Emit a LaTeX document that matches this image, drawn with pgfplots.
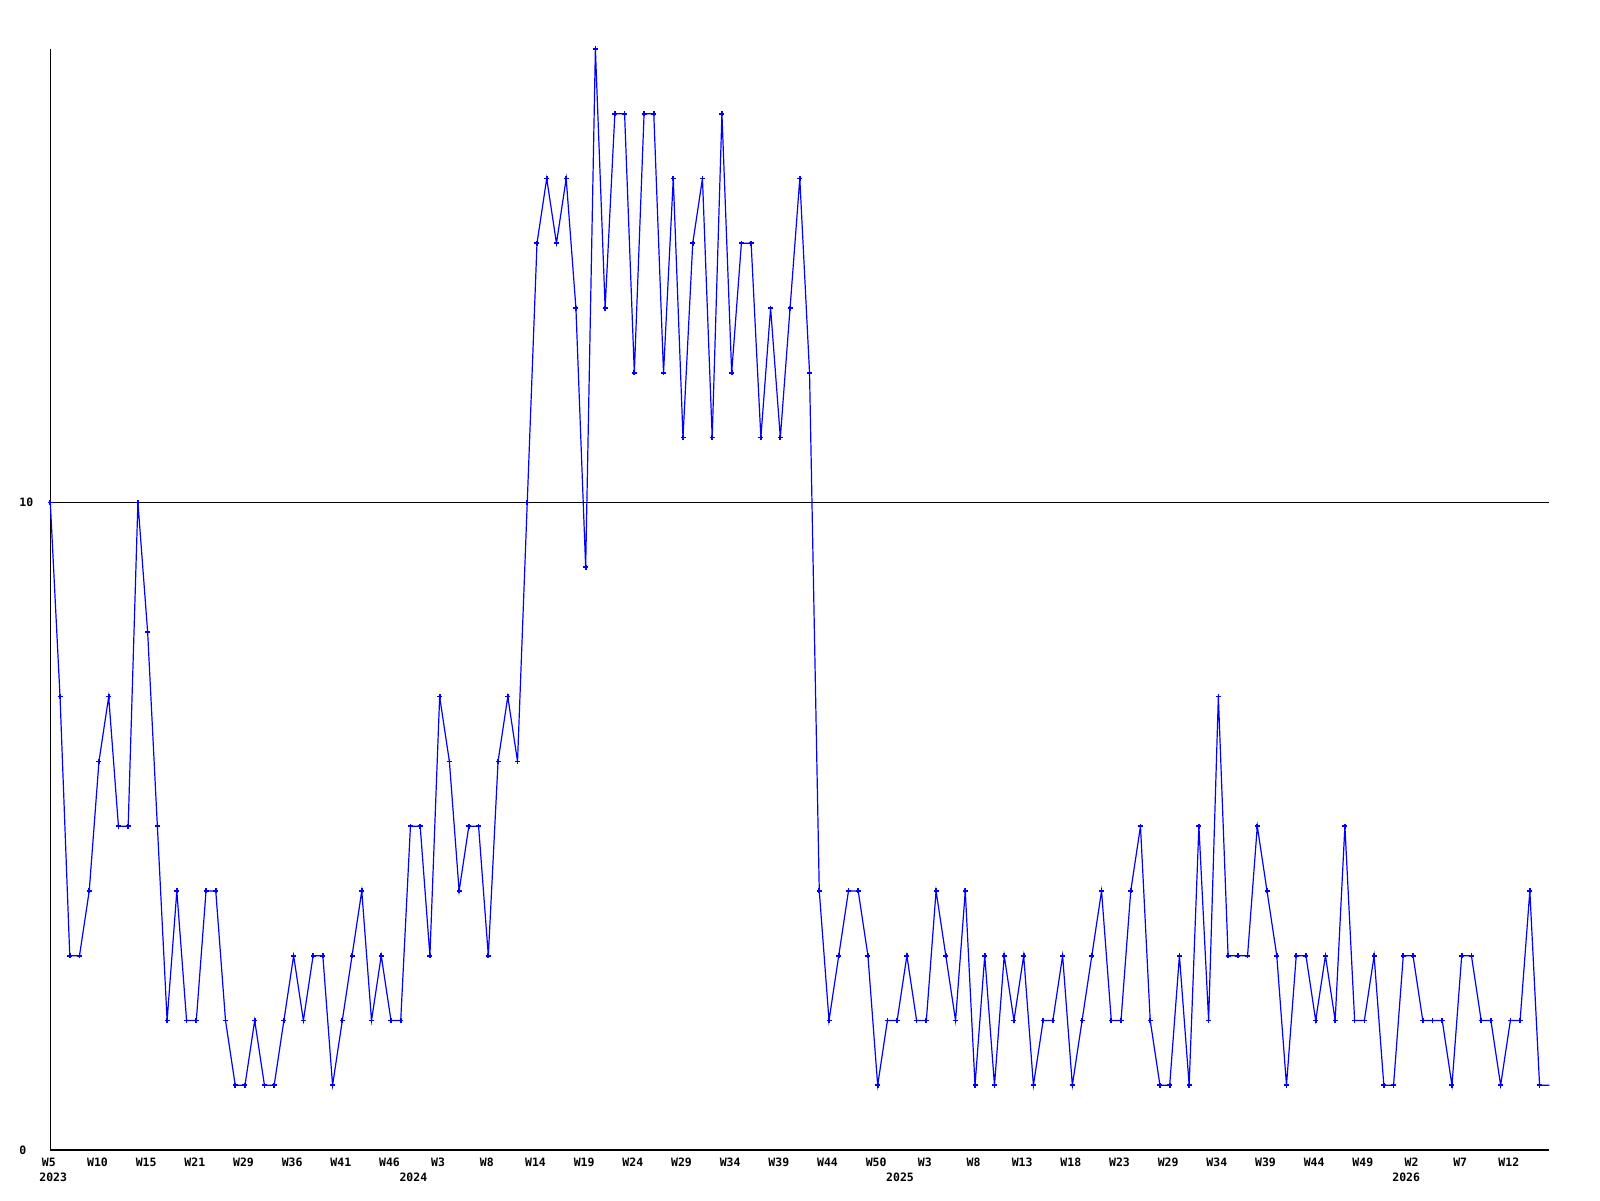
\documentclass[border=0pt]{standalone}
\usepackage{fontspec}
\setmainfont{DejaVu Sans Mono}
\usepackage{pgfplots}
\usepackage{pgfplotstable}
\pgfplotsset{compat=1.18}

% weekly counts, one row per plotted week (index, value)
\pgfplotstableread{
i v
0 10
1 7
2 3
3 3
4 4
5 6
6 7
7 5
8 5
9 10
10 8
11 5
12 2
13 4
14 2
15 2
16 4
17 4
18 2
19 1
20 1
21 2
22 1
23 1
24 2
25 3
26 2
27 3
28 3
29 1
30 2
31 3
32 4
33 2
34 3
35 2
36 2
37 5
38 5
39 3
40 7
41 6
42 4
43 5
44 5
45 3
46 6
47 7
48 6
49 10
50 14
51 15
52 14
53 15
54 13
55 9
56 17
57 13
58 16
59 16
60 12
61 16
62 16
63 12
64 15
65 11
66 14
67 15
68 11
69 16
70 12
71 14
72 14
73 11
74 13
75 11
76 13
77 15
78 12
79 4
80 2
81 3
82 4
83 4
84 3
85 1
86 2
87 2
88 3
89 2
90 2
91 4
92 3
93 2
94 4
95 1
96 3
97 1
98 3
99 2
100 3
101 1
102 2
103 2
104 3
105 1
106 2
107 3
108 4
109 2
110 2
111 4
112 5
113 2
114 1
115 1
116 3
117 1
118 5
119 2
120 7
121 3
122 3
123 3
124 5
125 4
126 3
127 1
128 3
129 3
130 2
131 3
132 2
133 5
134 2
135 2
136 3
137 1
138 1
139 3
140 3
141 2
142 2
143 2
144 1
145 3
146 3
147 2
148 2
149 1
150 2
151 2
152 4
153 1
154 1
}\weekly

\begin{document}
\begin{tikzpicture}
\useasboundingbox (-50.3pt,-50pt) rectangle (1549.7pt,1150pt);
\begin{axis}[
  scale only axis, width=1499pt, height=1101pt,
  xmin=0, xmax=154, ymin=0, ymax=17,
  axis x line=bottom, axis y line=left,
  axis line style={-, black, line width=1.1pt},
  xtick={0,5,...,150},
  xticklabels={W5,W10,W15,W21,W29,W36,W41,W46,W3,W8,W14,W19,W24,W29,W34,W39,W44,W50,W3,W8,W13,W18,W23,W29,W34,W39,W44,W49,W2,W7,W12},
  ytick={0,10}, yticklabels={0,10},
  major tick length=0pt,
  ymajorgrids, major grid style={black, line width=0.9pt},
  /pgf/number format/assume math mode=true,
  tick label style={font=\fontsize{11.5pt}{13pt}\selectfont\bfseries, inner sep=0pt},
  xticklabel style={anchor=center, yshift=-12pt, xshift=-1.5pt},
  yticklabel style={anchor=west, xshift=-31pt},
  extra x ticks={0.3,37.3,87.3,139.3},
  extra x tick labels={2023,2024,2025,2026},
  extra x tick style={xticklabel style={yshift=-15pt, xshift=1.5pt}, grid=none},
  clip=false,
]
\addplot[blue, line width=1.2pt, mark=none] table[x=i, y=v] {\weekly};
\addplot[blue, only marks, mark=+, mark size=2.5pt, mark options={line width=1.7pt},
  restrict x to domain=0:153] table[x=i, y=v] {\weekly};
\end{axis}
\end{tikzpicture}
\end{document}
